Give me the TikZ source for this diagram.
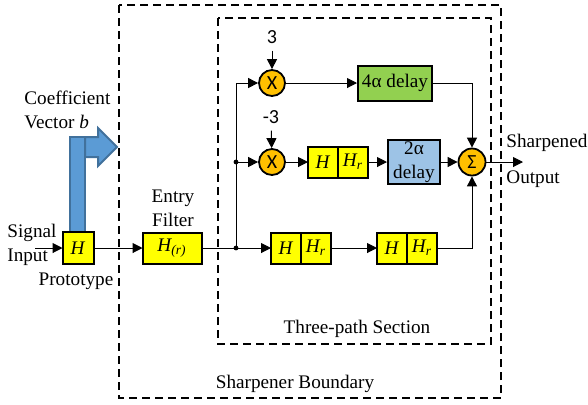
\documentclass[tikz,border=0pt]{standalone}
\usepackage{fontspec}
\setmainfont{Liberation Serif}
\newfontfamily\calfont{Carlito}
\usepackage{tikz}
\usetikzlibrary{positioning,arrows.meta}
\definecolor{filterYel}{RGB}{255, 255, 0}
\definecolor{multOrange}{RGB}{255, 192, 0}
\definecolor{delayGreen}{RGB}{146, 208, 80}
\definecolor{delayBlue}{RGB}{157, 195, 230}
\definecolor{coefBlue}{RGB}{91, 155, 213}
\definecolor{coefEdge}{RGB}{65, 113, 156}
\tikzset{myFilter/.style={draw=black, line width=1pt, fill=filterYel, outer sep=0pt, inner sep=0pt, minimum width=15pt, minimum height=15.5pt}}
\tikzset{myMult/.style={circle, draw=black, line width=0.9pt, fill=multOrange, inner sep=0pt, minimum size=13pt, font=\calfont}}
\tikzset{myDelay/.style={draw=black, line width=1pt, inner sep=0pt, align=center}}
\tikzset{myWire/.style={line width=0.5pt, -{Triangle[length=5pt,width=5pt]}}}
\tikzset{myBoundary/.style={line width=1pt, dash pattern=on 4pt off 2.5pt}}

\begin{document}
\begin{tikzpicture}[x=0.5pt,y=-0.5pt,font=\fontsize{9.6}{12}\selectfont]
	\useasboundingbox (0,0) rectangle (588,404);
	% dashed boundaries
	\draw[myBoundary] (119,5) rectangle (501,398);
	\draw[myBoundary] (218,18) rectangle (491,344);
	\node (sect) at (357,329) {Three-path Section};
	\node (bound) at (295,384) {Sharpener Boundary};

	% coefficient vector arrow
	\draw[coefEdge, fill=coefBlue, line width=1pt] (85,137) -- (98,137) -- (98,128) -- (117,147) -- (98,166) -- (98,157) -- (85,157) -- cycle;
	\draw[coefEdge, fill=coefBlue, line width=1pt] (70,232) rectangle (85,137);
	\node[anchor=west, align=left, inner sep=0pt] (coef) at (24,110) {Coefficient\\Vector \textit{b}};

	% prototype and entry filter
	\node[myFilter, minimum width=15.5pt, minimum height=16pt] (proto) at (78,248) {\textit{H}};
	\node (protoLab) at (76,281) {Prototype};
	\node[anchor=west, align=left, inner sep=0pt] (sig) at (7,245) {Signal\\Input};
	\coordinate (in) at (35,248);
	\node[myFilter, minimum width=29.5pt] (entry) at (172,248) {\textit{H\textsubscript{(r)}}};
	\node[align=center] (entryLab) at (173,208) {Entry\\Filter};

	% three paths
	\coordinate (splitB) at (236,248);
	\coordinate (splitM) at (236,162);
	\node[myMult] (mulA) at (272,83) {X};
	\node[myMult] (mulB) at (272,162) {X};
	\node[font=\calfont] (c3) at (272,37) {3};
	\node[font=\calfont] (cm3) at (271,117) {-3};
	\node[myDelay, fill=delayGreen, minimum width=37pt, minimum height=17.5pt] (dly4) at (395,83) {4α delay};
	\node[myFilter] (hM) at (323,162) {\textit{H}};
	\node[myFilter, right=0pt of hM] (hMr) {\textit{H\textsubscript{r}}};
	\node[myDelay, fill=delayBlue, minimum width=26pt, minimum height=22pt] (dly2) at (414,162) {2α\\delay};
	\node[myFilter] (hA1) at (286,248) {\textit{H}};
	\node[myFilter, right=0pt of hA1] (hA1r) {\textit{H\textsubscript{r}}};
	\node[myFilter] (hA2) at (392,248) {\textit{H}};
	\node[myFilter, right=0pt of hA2] (hA2r) {\textit{H\textsubscript{r}}};
	\node[myMult, minimum size=13.5pt] (sum) at (472,162) {Σ};
	\coordinate (out) at (523,162);
	\node[anchor=west, align=left, inner sep=0pt] (outLab) at (506,161) {Sharpened\\[6pt]Output};

	% connectors
	\draw[myWire] (in) -- (proto);
	\draw[myWire] (proto) -- (entry);
	\draw[line width=0.5pt] (entry) -- (splitB);
	\draw[myWire] (splitB) -- (hA1);
	\draw[myWire] (splitB) |- (mulA);
	\draw[myWire] (splitM) -- (mulB);
	\draw[myWire] (c3) -- (mulA);
	\draw[myWire] (cm3) -- (mulB);
	\draw[myWire] (mulA) -- (dly4);
	\draw[myWire] (dly4) -| (sum);
	\draw[myWire] (mulB) -- (hM);
	\draw[myWire] (hMr) -- (dly2);
	\draw[myWire] (dly2) -- (sum);
	\draw[myWire] (hA1r) -- (hA2);
	\draw[myWire] (hA2r) -| (sum);
	\draw[myWire] (sum) -- (out);
	\fill (splitB) circle [radius=1.2pt];
	\fill (splitM) circle [radius=1.2pt];
\end{tikzpicture}
\end{document}
